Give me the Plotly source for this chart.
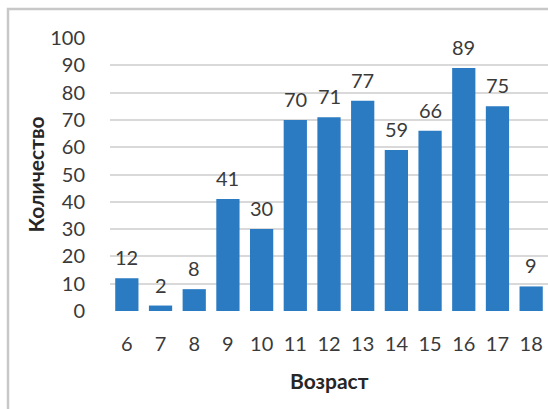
import plotly.graph_objects as go

ages = ["6", "7", "8", "9", "10", "11", "12", "13", "14", "15", "16", "17", "18"]
counts = [12, 2, 8, 41, 30, 70, 71, 77, 59, 66, 89, 75, 9]
y_ticks = [0, 10, 20, 30, 40, 50, 60, 70, 80, 90, 100]

FONT = "Lato"
TXT = "#3a3a3a"

fig = go.Figure()
fig.add_trace(go.Bar(x=list(range(len(ages))), y=counts, marker_color="#2B7BC3", marker_line_width=0))

ann = []
for i, c in enumerate(counts):
    ann.append(dict(x=i, y=c, xref="x", yref="y", text=str(c), showarrow=False,
                    yanchor="bottom", yshift=7, font=dict(family=FONT, size=20, color=TXT)))
ann.append(dict(x=0.5, y=-0.255, xref="paper", yref="paper", text="<b>Возраст</b>", showarrow=False,
                xanchor="center", yanchor="middle", font=dict(family=FONT, size=21, color="#262626")))
ann.append(dict(x=-0.171, y=0.5, xref="paper", yref="paper", text="<b>Количество</b>", showarrow=False,
                textangle=-90, xanchor="center", yanchor="middle", font=dict(family=FONT, size=21, color="#262626")))

fig.update_layout(
    width=548, height=409,
    margin=dict(l=110, r=0, t=38, b=98),
    paper_bgcolor="white", plot_bgcolor="white",
    bargap=0.31,
    showlegend=False,
    annotations=ann,
    shapes=[dict(type="rect", xref="paper", yref="paper", x0=-0.2329, x1=1.01, y0=-0.37, y1=1.106,
                 line=dict(color="#C8C8C8", width=2.5), fillcolor="rgba(0,0,0,0)", layer="below")],
)
fig.update_xaxes(range=[-0.5, len(ages) - 0.5], tickvals=list(range(len(ages))), ticktext=ages,
                 showgrid=False, showline=False, zeroline=False,
                 tickfont=dict(family=FONT, size=20, color=TXT), ticks="", ticklabelstandoff=19)
fig.update_yaxes(range=[0, 100], tickvals=y_ticks, showgrid=True, gridcolor="#D9D9D9", gridwidth=1.5,
                 zeroline=False, showline=False, ticks="",
                 tickfont=dict(family=FONT, size=20, color=TXT), ticklabelstandoff=24)

fig.write_html("out.html")
